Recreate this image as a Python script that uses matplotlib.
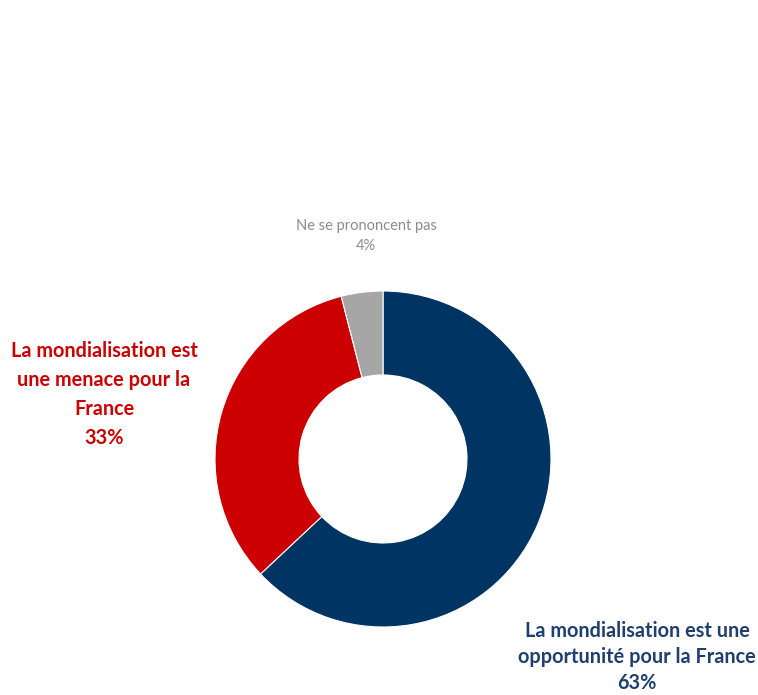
import matplotlib
matplotlib.use("Agg")
import matplotlib.pyplot as plt

categories = ["La mondialisation est une\nopportunité pour la France",
              "La mondialisation est\nune menace pour la\nFrance",
              "Ne se prononcent pas"]
values = [63, 33, 4]
colors = ["#003463", "#CC0000", "#A6A6A6"]
text_colors = ["#1F3F6E", "#CC0000", "#8C8C8C"]

W, H = 758, 695
fig = plt.figure(figsize=(W / 100, H / 100), dpi=100)
ax = fig.add_axes([0, 0, 1, 1])
ax.pie(values, colors=colors, startangle=90, counterclock=False,
       center=(383, H - 459), radius=168,
       wedgeprops=dict(width=84, edgecolor="white", linewidth=0.8))
ax.set_xlim(0, W)
ax.set_ylim(0, H)
ax.set_aspect("equal")
ax.axis("off")

font = ["Lato", "DejaVu Sans"]
ax.text(637, H - 657, f"{categories[0]}\n{values[0]}%", ha="center", va="center",
        color=text_colors[0], fontsize=14.3, fontweight="bold", family=font,
        linespacing=1.38)
ax.text(104, H - 394.5, f"{categories[1]}\n{values[1]}%", ha="center", va="center",
        color=text_colors[1], fontsize=14.3, fontweight="bold", family=font,
        linespacing=1.55)
ax.text(366, H - 236, f"{categories[2]}\n{values[2]}%", ha="center", va="center",
        color=text_colors[2], fontsize=10.5, family=font, linespacing=1.5)

fig.savefig("out.png", dpi=100, facecolor="white")
